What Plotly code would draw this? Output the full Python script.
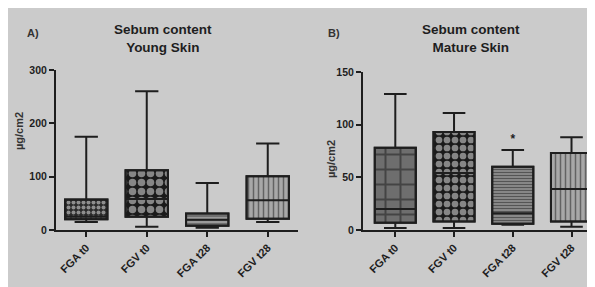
import plotly.graph_objects as go

categories = ["FGA t0", "FGV t0", "FGA t28", "FGV t28"]

young_min = [15, 6, 4, 15]
young_q1 = [20, 25, 8, 21]
young_median = [25, 58, 19, 56]
young_q3 = [57, 112, 31, 101]
young_max = [175, 260, 88, 162]

mature_min = [2, 2, 5, 3]
mature_q1 = [7, 8, 6, 8]
mature_median = [20, 54, 16, 39]
mature_q3 = [78, 93, 60, 73]
mature_max = [129, 111, 76, 88]

mature_sig_cat = ["FGA t28"]
mature_sig_y = [85]

OFF = 8  # page body margin
W, H = 595 - OFF, 287 - OFF
FONT = "Liberation Sans"
INK = "#1e1e1e"
BG = "#cbcbcb"

def px_x(p):
    return (p - OFF) / W

def px_y(p):
    return 1 - (p - OFF) / H

fig = go.Figure()

young_pattern = dict(
    shape=[".", ".", "-", "|"],
    fgcolor=["#f2f2f2", "#f2f2f2", INK, INK],
    bgcolor=["#2a2a2a", "#1a1a1a", "#9a9a9a", "#a8a8a8"],
    size=[5, 9, 4, 5],
    solidity=[0.5, 0.55, 0.35, 0.3],
)
mature_pattern = dict(
    shape=["+", ".", "-", "|"],
    fgcolor=["#1a1a1a", "#f2f2f2", INK, INK],
    bgcolor=["#6e6e6e", "#1a1a1a", "#8c8c8c", "#a8a8a8"],
    size=[15, 8, 3, 5],
    solidity=[0.25, 0.55, 0.4, 0.3],
)

def add_panel(q1, med, q3, lo, hi, pattern, xa, ya):
    heights = [b - a for a, b in zip(q1, q3)]
    fig.add_trace(go.Bar(
        x=categories, y=heights, base=q1, width=0.7,
        marker=dict(color="#222", line=dict(color=INK, width=2), pattern=pattern),
        xaxis=xa, yaxis=ya, showlegend=False, hoverinfo="skip",
    ))
    fig.add_trace(go.Box(
        x=categories, q1=q1, median=med, q3=q3, lowerfence=lo, upperfence=hi,
        width=0.7, whiskerwidth=0.55, boxpoints=False,
        fillcolor="rgba(0,0,0,0)", line=dict(color=INK, width=2),
        xaxis=xa, yaxis=ya, showlegend=False,
    ))

add_panel(young_q1, young_median, young_q3, young_min, young_max, young_pattern, "x", "y")
add_panel(mature_q1, mature_median, mature_q3, mature_min, mature_max, mature_pattern, "x2", "y2")

fig.add_trace(go.Scatter(
    x=mature_sig_cat, y=mature_sig_y, mode="text", text=["*"],
    textfont=dict(family=FONT, size=12, color=INK, weight="bold"),
    xaxis="x2", yaxis="y2", showlegend=False,
))

tickfont = dict(family=FONT, size=10.5, color=INK, weight="bold")
xtickfont = dict(family=FONT, size=11, color=INK, weight="bold")
xcommon = dict(
    type="category", showline=True, linecolor=INK, linewidth=2, automargin=False,
    ticks="outside", ticklen=5, tickwidth=2, tickcolor=INK,
    tickangle=-45, tickfont=xtickfont, showgrid=False, zeroline=False,
)
ycommon = dict(
    showline=True, linecolor=INK, linewidth=2, ticks="outside", ticklen=5, automargin=False,
    tickwidth=2, tickcolor=INK, tickfont=tickfont, showgrid=False, zeroline=False,
)

fig.update_layout(
    width=W, height=H,
    margin=dict(l=0, r=0, t=0, b=0, pad=0),
    paper_bgcolor=BG, plot_bgcolor="rgba(0,0,0,0)",
    barmode="overlay", boxmode="overlay",
    xaxis=dict(domain=[px_x(56), px_x(298)], range=[-0.5, 3.5], anchor="y", **xcommon),
    yaxis=dict(domain=[px_y(230), px_y(70)], range=[0, 300], dtick=100, anchor="x", **ycommon),
    xaxis2=dict(domain=[px_x(363), 1.0], range=[-0.55, 3.4], anchor="y2", **xcommon),
    yaxis2=dict(domain=[px_y(230), px_y(72)], range=[0, 150], dtick=50, anchor="x2", **ycommon),
)

titlefont = dict(family=FONT, size=13.5, color=INK, weight="bold")
labfont = dict(family=FONT, size=11, color="#333", weight="bold")
ann = [
    dict(text="Sebum content<br>Young Skin", x=px_x(162.5), y=px_y(38.5), font=titlefont),
    dict(text="Sebum content<br>Mature Skin", x=px_x(471), y=px_y(38.5), font=titlefont),
    dict(text="A)", x=px_x(33), y=px_y(33), font=labfont),
    dict(text="B)", x=px_x(334), y=px_y(33), font=labfont),
    dict(text="µg/cm2", x=px_x(19), y=px_y(131), textangle=-90, font=labfont),
    dict(text="µg/cm2", x=px_x(331), y=px_y(159), textangle=-90, font=labfont),
]
for a in ann:
    fig.add_annotation(xref="paper", yref="paper", showarrow=False,
                       xanchor="center", yanchor="middle", align="center", **a)

fig.write_html("out.html")
